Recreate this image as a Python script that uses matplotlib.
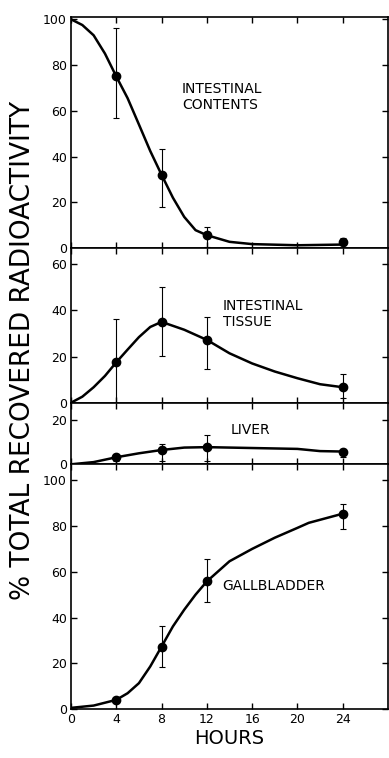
import numpy as np
import matplotlib.pyplot as plt

# measured points (hours, % recovered) with error-bar ends
hours = [4, 8, 12, 24]

cont_y = [75, 32, 5.6, 2.5]
cont_lo = [57, 18, 0.5, 0]
cont_hi = [96, 43.4, 9.2, 4.5]

tiss_y = [17.5, 35, 27.2, 6.7]
tiss_lo = [-3.6, 20.4, 14.6, 2]
tiss_hi = [36.4, 50, 37, 12.3]

liv_y = [3.2, 6.5, 7.7, 5.8]
liv_lo = [1.7, 1.7, 1.7, 3.5]
liv_hi = [4.7, 9, 13.3, 7]

gall_y = [4, 27.3, 55.8, 85.4]
gall_lo = [3, 18.3, 46.6, 78.5]
gall_hi = [5, 36.4, 65.4, 89.8]

# fitted curves
cont_cx = [0, 1, 2, 3, 4, 5, 6, 7, 8, 9, 10, 11, 12, 14, 16, 20, 24]
cont_cy = [100, 97.5, 93, 85, 75, 65.5, 54, 42.4, 32, 22, 13.6, 7.8, 5.6, 2.7, 1.7, 1.2, 1.5]

tiss_cx = [0, 1, 2, 3, 4, 5, 6, 7, 8, 10, 12, 14, 16, 18, 20, 22, 24]
tiss_cy = [0, 2.6, 6.7, 11.6, 17.5, 23, 28.4, 32.8, 35, 31.6, 27.2, 21.4, 17, 13.5, 10.6, 8, 6.7]

liv_cx = [0, 2, 4, 6, 8, 10, 12, 16, 20, 22, 24]
liv_cy = [0, 1, 3.2, 5, 6.5, 7.6, 7.8, 7.4, 7, 6, 5.8]

gall_cx = [0, 2, 4, 5, 6, 7, 8, 9, 10, 11, 12, 14, 16, 18, 20, 21, 24]
gall_cy = [0.5, 1.5, 4, 6.9, 11.3, 18.6, 27.3, 36.1, 43.4, 50, 55.8, 64.6, 70, 74.9, 79.2, 81.4, 85.4]

panels = [
    ("INTESTINAL\nCONTENTS", cont_y, cont_lo, cont_hi, cont_cx, cont_cy, (0, 101), [0, 20, 40, 60, 80, 100], (9.8, 66)),
    ("INTESTINAL\nTISSUE", tiss_y, tiss_lo, tiss_hi, tiss_cx, tiss_cy, (0, 67), [0, 20, 40, 60], (13.4, 38.5)),
    ("LIVER", liv_y, liv_lo, liv_hi, liv_cx, liv_cy, (0, 28), [0, 20], (14.1, 15.6)),
    ("GALLBLADDER", gall_y, gall_lo, gall_hi, gall_cx, gall_cy, (0, 107), [0, 20, 40, 60, 80, 100], (13.4, 54)),
]

plt.rcParams['font.family'] = ['DejaVu Sans']

fig = plt.figure(figsize=(3.89, 7.58), dpi=100)
left, right = 71 / 389, 388 / 389
bounds = [17, 248, 402.7, 464.3, 709]  # pixel rows of panel edges

for i, (name, y, lo, hi, cx, cy, ylim, yt, tpos) in enumerate(panels):
    top = 1 - bounds[i] / 758
    bot = 1 - bounds[i + 1] / 758
    ax = fig.add_axes([left, bot, right - left, top - bot])
    ax.plot(cx, cy, color='black', lw=1.8, zorder=3)
    err = [np.array(y) - np.array(lo), np.array(hi) - np.array(y)]
    ax.errorbar(hours, y, yerr=err, fmt='o', color='black', ms=6,
                elinewidth=0.8, capsize=2.5, capthick=0.8, zorder=4, clip_on=False)
    ax.set_xlim(0, 28)
    ax.set_ylim(*ylim)
    ax.set_yticks(yt)
    ax.set_xticks([0, 4, 8, 12, 16, 20, 24])
    ax.tick_params(direction='in', top=True, right=True, length=4, width=1,
                   labelsize=9, pad=3)
    if i < 3:
        ax.tick_params(labelbottom=False)
    for s in ax.spines.values():
        s.set_linewidth(1.2)
    ax.text(tpos[0], tpos[1], name, fontsize=10, va='center', ha='left',
            linespacing=1.2)
    if i == 3:
        ax.set_xlabel('HOURS', fontsize=14, labelpad=2)

fig.text(0.059, 0.538, '% TOTAL RECOVERED RADIOACTIVITY', rotation=90,
         fontsize=19, va='center', ha='center')

fig.savefig('out.png', dpi=100)
